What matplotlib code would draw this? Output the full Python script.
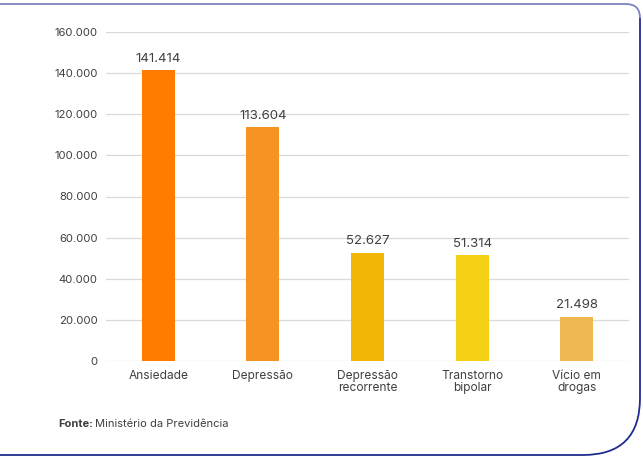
import numpy as np
import matplotlib.pyplot as plt
from matplotlib.path import Path
from matplotlib.patches import PathPatch
from matplotlib.transforms import Affine2D

categories = ["Ansiedade", "Depressão", "Depressão\nrecorrente", "Transtorno\nbipolar", "Vício em\ndrogas"]
values = [141414, 113604, 52627, 51314, 21498]
bar_colors = ["#FF7C00", "#F79323", "#F2B706", "#F6D014", "#F0B851"]
yticks = [0, 20000, 40000, 60000, 80000, 100000, 120000, 140000, 160000]


def fmt(v):
    return f"{v:,}".replace(",", ".")


plt.rcParams['font.family'] = ['Inter', 'DejaVu Sans']

W, H = 643, 457
fig = plt.figure(figsize=(W / 100, H / 100), dpi=100)
ax = fig.add_axes([106 / W, 1 - 361 / H, (629 - 106) / W, (361 - 32) / H])

x = np.arange(len(categories))
ax.bar(x, values, width=0.315, color=bar_colors, zorder=3)
for xi, v in zip(x, values):
    ax.annotate(fmt(v), (xi, v), xytext=(0, 4), textcoords="offset points",
                ha="center", va="bottom", fontsize=9.5, color="#404040")

ax.set_xlim(-0.5, len(categories) - 0.5)
ax.set_ylim(0, 160000)
ax.set_yticks(yticks)
ax.set_yticklabels([fmt(t) for t in yticks])
ax.set_xticks(x)
ax.set_xticklabels(categories, linespacing=1.05)
ax.tick_params(axis="both", length=0, labelcolor="#404040")
ax.tick_params(axis="y", pad=6, labelsize=8.2)
ax.tick_params(axis="x", pad=6.5, labelsize=8.6)
ax.grid(axis="y", color="#d9d9d9", linewidth=0.9, zorder=0)
for s in ax.spines.values():
    s.set_visible(False)

src = fig.text(58 / W, 1 - 424 / H, "Fonte:", fontsize=8, fontweight="bold",
               color="#404040", va="center")
ax.annotate("Ministério da Previdência", xy=(1, 0.5), xycoords=src,
            xytext=(1.5, 0), textcoords="offset points", fontsize=8,
            color="#404040", va="center", ha="left", annotation_clip=False)

# card border in pixel coordinates
px = Affine2D().scale(1 / W, -1 / H).translate(0, 1) + fig.transFigure
top = Path([(-5, 4), (626, 4), (640, 4), (640, 18)],
           [Path.MOVETO, Path.LINETO, Path.CURVE3, Path.CURVE3])
side = Path([(640, 18), (640, 398), (640, 455), (583, 455), (-5, 455)],
            [Path.MOVETO, Path.LINETO, Path.CURVE3, Path.CURVE3, Path.LINETO])
fig.patches.append(PathPatch(top, transform=px, fill=False, edgecolor="#7c84bf", linewidth=1.3))
fig.patches.append(PathPatch(side, transform=px, fill=False, edgecolor="#1f2d8c", linewidth=1.3))

fig.savefig("out.png", dpi=100)
